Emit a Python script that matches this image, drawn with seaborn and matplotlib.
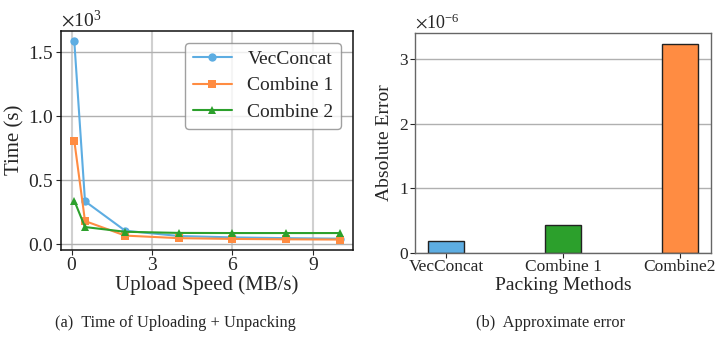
import numpy as np
import pandas as pd
import matplotlib
matplotlib.use("Agg")
import matplotlib.pyplot as plt
import seaborn as sns

# ---- data ----
speeds = [0.1, 0.5, 2, 4, 6, 8, 10]
vecconcat = [1590, 335, 104, 63, 52, 46, 42]
combine1 = [810, 180, 66, 46, 40, 37, 35]
combine2 = [340, 133, 96, 87, 86, 86, 86]
series_names = ["VecConcat", "Combine 1", "Combine 2"]

methods = ["VecConcat", "Combine 1", "Combine2"]
abs_error = [0.18e-6, 0.435e-6, 3.23e-6]

blue = "#5DADE2"
orange = "#FF8C42"
green = "#2CA02C"

sns.set_theme(style="white")
plt.rcParams["font.family"] = ["Liberation Serif", "DejaVu Serif"]
plt.rcParams["mathtext.fontset"] = "stix"

fig = plt.figure(figsize=(7.23, 3.39), dpi=100)
ax1 = fig.add_axes([61 / 723, 1 - 249.5 / 339, 292 / 723, 218.5 / 339])
ax2 = fig.add_axes([415 / 723, 1 - 253 / 339, 296 / 723, 220 / 339])

# ---- left: line plot ----
df = pd.DataFrame({
    "speed": speeds * 3,
    "time": vecconcat + combine1 + combine2,
    "method": [series_names[0]] * len(speeds) + [series_names[1]] * len(speeds) + [series_names[2]] * len(speeds),
})
ax1.set_axisbelow(True)
ax1.xaxis.grid(True, color="#d0d0d0", linewidth=1.5)
ax1.yaxis.grid(True, color="#b0b0b0", linewidth=1.0)
sns.lineplot(data=df, x="speed", y="time", hue="method", style="method",
             hue_order=series_names, style_order=series_names,
             palette=[blue, orange, green], markers=["o", "s", "^"], dashes=False,
             linewidth=1.5, markersize=6, markeredgewidth=0, ax=ax1)
ax1.set_xticks([0, 3, 6, 9])
ax1.set_yticks([0, 500, 1000, 1500])
ax1.ticklabel_format(axis="y", style="sci", scilimits=(0, 0), useMathText=True)
ax1.set_xlabel("Upload Speed (MB/s)", fontsize=15, labelpad=1)
ax1.set_ylabel("Time (s)", fontsize=15, labelpad=2)
ax1.tick_params(axis="both", labelsize=14, length=3.5, width=0.8, direction="out", bottom=True, left=True, pad=2)
ax1.yaxis.get_offset_text().set_fontsize(14)
for s in ax1.spines.values():
    s.set_color("#111111")
    s.set_linewidth(1.1)
leg = ax1.legend(loc="upper right", fontsize=14, frameon=True, fancybox=True,
                 edgecolor="#888888", framealpha=0.8, labelspacing=0.45, title=None,
                 borderaxespad=0.6)

# ---- right: bar plot ----
dfb = pd.DataFrame({"method": methods, "err": abs_error})
sns.barplot(data=dfb, x="method", y="err", hue="method", order=methods, hue_order=methods,
            palette=[blue, green, orange], width=0.3, edgecolor="#222222", linewidth=1.0,
            legend=False, ax=ax2, saturation=1)
ax2.set_xlim(-0.265, 2.265)
ax2.set_ylim(0, 3.4e-6)
ax2.set_yticks([0, 1e-6, 2e-6, 3e-6])
ax2.ticklabel_format(axis="y", style="sci", scilimits=(0, 0), useMathText=True)
ax2.set_xlabel("Packing Methods", fontsize=14, labelpad=1)
ax2.set_ylabel("Absolute Error", fontsize=14, labelpad=4)
ax2.tick_params(axis="both", labelsize=12.5, length=3.5, width=0.8, direction="out", bottom=True, left=True, pad=1)
ax2.yaxis.get_offset_text().set_fontsize(13)
ax2.yaxis.grid(True, color="#b0b0b0", linewidth=1.0)
ax2.xaxis.grid(False)
ax2.set_axisbelow(True)
for s in ax2.spines.values():
    s.set_color("#666666")
    s.set_linewidth(1.0)

# ---- captions ----
fig.text(175 / 723, 1 - 323 / 339, "(a)  Time of Uploading + Unpacking", ha="center", va="center", fontsize=11.8)
fig.text(551 / 723, 1 - 323 / 339, "(b)  Approximate error", ha="center", va="center", fontsize=11.8)

fig.savefig("out.png", dpi=100)
